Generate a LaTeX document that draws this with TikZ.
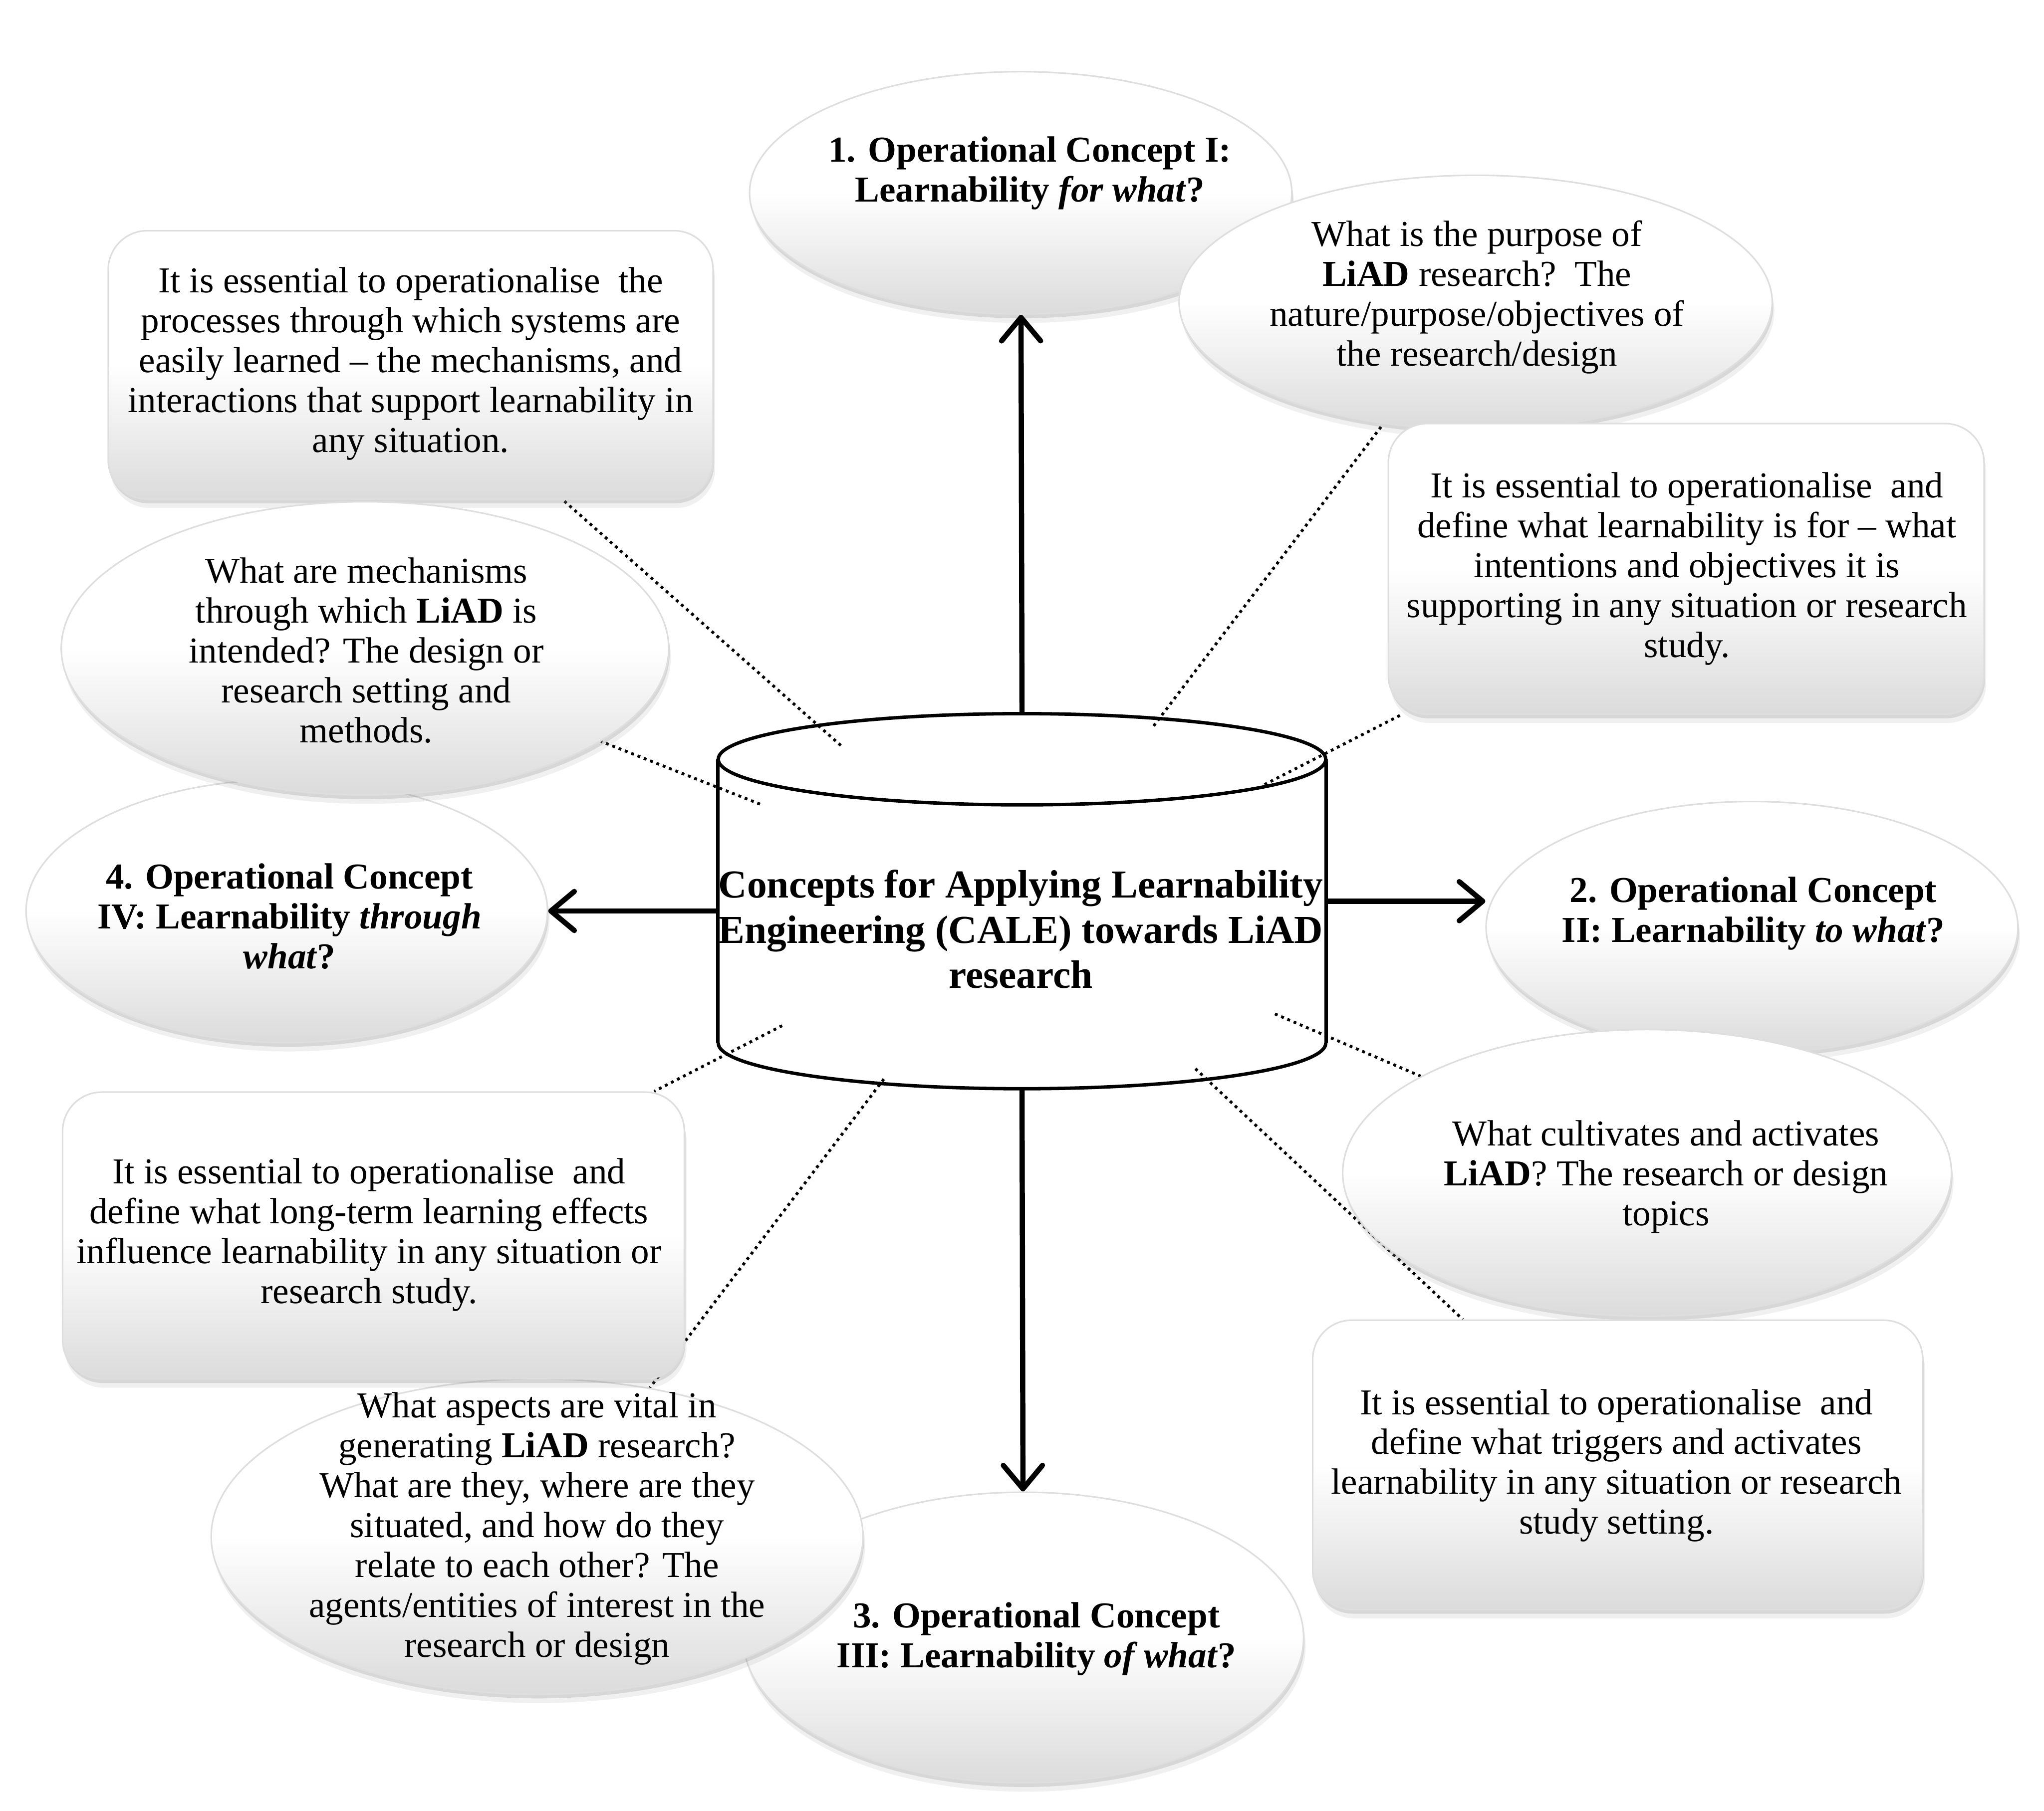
\documentclass[tikz,border=0pt]{standalone}
\usepackage{fontspec}
\setmainfont{Liberation Serif}
\usetikzlibrary{arrows.meta, shapes.geometric, shadows, positioning}
\pgfdeclarelayer{back}
\pgfsetlayers{back,main}

\begin{document}
\begin{tikzpicture}[
      x=0.5pt, y=-0.5pt,
      soft/.style={top color=white, bottom color=black!14, middle color=white,
            draw=black!13, line width=0.6pt,
            drop shadow={shadow xshift=0.4pt, shadow yshift=-1.6pt, opacity=0.22},
            drop shadow={shadow xshift=0.8pt, shadow yshift=-3.4pt, opacity=0.12}},
      bubble/.style={ellipse, soft, inner sep=0pt},
      note/.style={rectangle, rounded corners=15pt, soft, inner sep=0pt},
      txt/.style={font=\fontsize{14}{15.3}\selectfont, align=center, inner sep=0pt},
      head/.style={txt, font=\fontsize{14}{15.3}\selectfont\bfseries},
      cylline/.style={line width=1.3pt},
      arrow/.style={-{Straight Barb[length=9pt, width=15pt, round]}, line width=2pt},
      callout/.style={line width=1.1pt, dash pattern=on 1.1pt off 1.5pt},
   ]
      \useasboundingbox (0,0) rectangle (1568,1389.3);

      % Concept I
      \node[bubble, minimum width=208pt, minimum height=93pt] (e1) at (783,148) {};
      \node[head] (e1t) at (790,133) {1. Operational Concept I:\\Learnability \textit{for what}?};
      \node[bubble, minimum width=227.5pt, minimum height=97.5pt] (e1b) at (1132,232) {};
      \node[txt] (e1bt) at (1133,228) {What is the purpose of\\\textbf{LiAD} research?\ \ The\\nature/purpose/objectives of\\the research/design};

      % notes, top
      \node[note, minimum width=232pt, minimum height=103pt] (b1) at (315,280) {};
      \node[txt] (b1t) at (315,279) {It is essential to operationalise\ \ the\\processes through which systems are\\easily learned -- the mechanisms, and\\interactions that support learnability in\\any situation.};
      \node[note, minimum width=228.5pt, minimum height=111.5pt] (b2) at (1293.5,436.5) {};
      \node[txt] (b2t) at (1294,436.5) {It is essential to operationalise\ \ and\\define what learnability is for -- what\\intentions and objectives it is\\supporting in any situation or research\\study.};

      % Concept IV
      \node[bubble, minimum width=200pt, minimum height=101pt] (e4) at (220,699) {};
      \node[head] (e4t) at (222,703) {4. Operational Concept\\IV: Learnability \textit{through}\\\textit{what}?};
      \node[bubble, minimum width=233pt, minimum height=112.5pt] (e4b) at (280,497.5) {};
      \node[txt] (e4bt) at (281,499) {What are mechanisms\\through which \textbf{LiAD} is\\intended? The design or\\research setting and\\methods.};

      % Concept II
      \node[bubble, minimum width=204pt, minimum height=96.5pt] (e2) at (1344,711.5) {};
      \node[head] (e2t) at (1345,701) {2. Operational Concept\\II: Learnability \textit{to what}?};
      \node[bubble, minimum width=233.5pt, minimum height=110pt] (e2b) at (1263.5,900) {};
      \node[txt] (e2bt) at (1278,903) {What cultivates and activates\\\textbf{LiAD}? The research or design\\topics};

      % Concept III
      \node[bubble, minimum width=215pt, minimum height=111.5pt] (e3) at (785,1256.5) {};
      \node[head] (e3t) at (795,1257.5) {3. Operational Concept\\III: Learnability \textit{of what}?};
      \node[bubble, minimum width=250pt, minimum height=121pt] (e3b) at (412,1179) {};
      \node[txt] (e3bt) at (412,1173) {What aspects are vital in\\generating \textbf{LiAD} research?\\What are they, where are they\\situated, and how do they\\relate to each other? The\\agents/entities of interest in the\\research or design};

      % notes, bottom
      \node[note, minimum width=238.5pt, minimum height=110pt] (b4) at (286.5,948) {};
      \node[txt] (b4t) at (283,947.5) {It is essential to operationalise\ \ and\\define what long-term learning effects\\influence learnability in any situation or\\research study.};
      \node[note, minimum width=234pt, minimum height=111pt] (b3) at (1241,1124) {};
      \node[txt] (b3t) at (1240,1124.5) {It is essential to operationalise\ \ and\\define what triggers and activates\\learnability in any situation or research\\study setting.};

      % central cylinder
      \node[minimum width=233pt, minimum height=143.5pt, inner sep=0pt] (cyl) at (784,691.5) {};
      \node[head, font=\fontsize{15.2}{17.25}\selectfont\bfseries] (cale) at (783,713)
         {Concepts for Applying Learnability\\Engineering (CALE) towards LiAD\\research};

      \coordinate (c1) at (645,572);
      \coordinate (c2) at (885,557);
      \coordinate (c3) at (970,602);
      \coordinate (c4) at (583,617);
      \coordinate (c5) at (600,787);
      \coordinate (c6) at (678,828);
      \coordinate (c7) at (978,778);
      \coordinate (c8) at (917,820);

      \begin{pgfonlayer}{back}
         \draw[cylline, fill=white] ([yshift=17.5pt]cyl.south) ellipse [x radius=116.5pt, y radius=17.5pt];
         \fill[white] ([yshift=-17.5pt]cyl.north west) rectangle ([yshift=17.5pt]cyl.south east);
         \draw[cylline] ([yshift=-17.5pt]cyl.north west) -- ([yshift=17.5pt]cyl.south west);
         \draw[cylline] ([yshift=-17.5pt]cyl.north east) -- ([yshift=17.5pt]cyl.south east);
         \draw[cylline, fill=white] ([yshift=-17.5pt]cyl.north) ellipse [x radius=116.5pt, y radius=17.5pt];

         % dotted callouts
         \draw[callout] (c1) -- (b1);
         \draw[callout] (c2) -- (e1b);
         \draw[callout] (c3) -- (b2);
         \draw[callout] (c4) -- (e4b);
         \draw[callout] (c5) -- (b4);
         \draw[callout] (c6) -- (e3b);
         \draw[callout] (c7) -- (e2b);
         \draw[callout] (c8) -- (b3);
      \end{pgfonlayer}

      % arrows
      \draw[arrow] (cyl.north) -- (e1);
      \draw[arrow] (cyl.west |- e4) -- (e4);
      \draw[arrow] (cyl.east) -- (cyl.east -| e2.west);
      \draw[arrow] (cyl.south) -- (e3);
   \end{tikzpicture}
\end{document}
